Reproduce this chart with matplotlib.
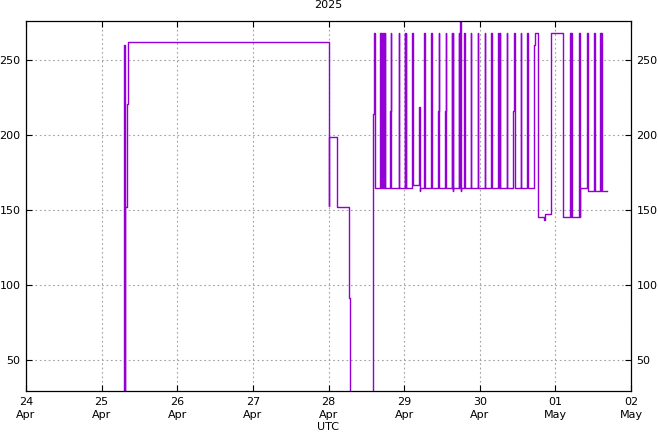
import numpy as np
import pandas as pd
import matplotlib
matplotlib.use("Agg")
import matplotlib.pyplot as plt
import matplotlib.dates as mdates

plt.rcParams['font.family'] = ['DejaVu Sans']

# hours after 2025-04-24 00:00 UTC, value holds until the next sample
hours = [31.0, 31.1, 31.3, 31.46, 32.0, 32.38,
         96.0, 96.1, 98.62, 102.65, 102.96,
         110.25, 110.57, 110.76,
         112.4, 112.59, 112.78, 112.97, 113.35, 113.54, 113.8, 113.99,
         115.57, 115.79, 115.98,
         118.26, 118.45,
         120.17, 120.36, 120.55, 120.74,
         122.38, 122.61, 122.76,
         124.66, 124.92, 125.08,
         126.41, 126.6,
         128.62, 128.81,
         130.62, 130.94, 131.13,
         132.84, 133.15, 133.34,
         135.06, 135.25, 135.37, 135.53, 135.66,
         137.27, 137.46, 137.68, 137.9, 138.06,
         138.98, 139.17,
         141.07, 141.26,
         143.29, 143.48,
         145.51, 145.7,
         147.7, 148.02,
         149.85, 150.04, 150.29, 150.55,
         152.61, 152.8,
         154.7, 155.01, 155.2,
         157.04, 157.23,
         159.13, 159.32,
         161.35, 161.67, 162.36,
         164.52, 164.74,
         166.74,
         170.54,
         172.66, 172.85, 173.04, 173.23,
         175.51, 175.7,
         175.92,
         177.89, 178.11, 178.3,
         180.26, 180.45,
         182.23, 182.42, 182.61, 182.8,
         184.29]

values = [0, 260, 0, 152, 221, 262,
          152.6, 199, 152, 91.5, 0,
          214, 268, 165,
          268, 165, 268, 165, 268, 165, 268, 165,
          216, 268, 165,
          268, 165,
          268, 165, 268, 165,
          216, 268, 167,
          219, 162.5, 165,
          268, 165,
          268, 165,
          216, 268, 165,
          216, 268, 165,
          268, 165, 268, 162.5, 165,
          268, 165, 290, 162.5, 165,
          268, 165,
          268, 165,
          268, 165,
          268, 165,
          268, 165,
          268, 165, 268, 165,
          268, 165,
          216, 268, 165,
          268, 165,
          268, 165,
          260, 268, 145.5,
          143.5, 147.5,
          268,
          145.5,
          268, 145.5, 268, 145.5,
          268, 145.5,
          165,
          216, 268, 163,
          268, 163,
          268, 163, 268, 163,
          163]

start = pd.Timestamp("2025-04-24")
times = start + pd.to_timedelta(hours, unit="h")

fig = plt.figure(figsize=(6.58, 4.32), dpi=100)
ax = fig.add_axes([26 / 658, 41 / 432, 605 / 658, 370 / 432])

ax.plot(times, values, drawstyle="steps-post", color="#9400d3", lw=1.0)

ax.set_xlim(pd.Timestamp("2025-04-24"), pd.Timestamp("2025-05-02"))
ax.set_ylim(29.5, 276)
ax.set_yticks([50, 100, 150, 200, 250])
ax.xaxis.set_major_locator(mdates.DayLocator())
ax.xaxis.set_major_formatter(mdates.DateFormatter("%d\n%b"))

ax.grid(True, color="#a0a0a0", lw=0.8, linestyle=(0, (1.5, 2.5)))
ax.tick_params(direction="in", length=4, width=0.8, top=True, right=True,
               labelright=True, labelsize=8, pad=4)
for lbl in ax.get_xticklabels():
    lbl.set_linespacing(1.45)
for s in ax.spines.values():
    s.set_linewidth(0.9)

ax.set_xlabel("UTC", fontsize=8, labelpad=1)
ax.set_title("2025", fontsize=8, pad=9)

fig.savefig("out.png", dpi=100)
